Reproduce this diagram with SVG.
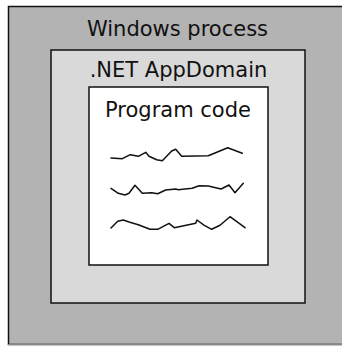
<svg xmlns="http://www.w3.org/2000/svg" width="342" height="346" viewBox="0 0 342 346">
<style>
.lbl{font-family:"DejaVu Sans","Liberation Sans",sans-serif;font-size:21px;fill:#111;text-anchor:middle}
.box{stroke:#111;stroke-width:1.5}
.sq{fill:none;stroke:#111;stroke-width:1.5;stroke-linejoin:round;stroke-linecap:round}
</style>
<rect width="342" height="346" fill="#ffffff"/>
<g id="windows-process">
<rect class="box" x="8.5" y="6.5" width="340" height="338" fill="#b3b3b3"/>
<line x1="8" y1="344.5" x2="342" y2="344.5" stroke="#8a8a8a" stroke-width="1"/>
<text class="lbl" x="177.5" y="36">Windows process</text>
</g>
<g id="appdomain">
<rect class="box" x="51" y="50" width="254" height="253" fill="#d9d9d9"/>
<text class="lbl" x="178.5" y="77">.NET AppDomain</text>
</g>
<g id="program-code">
<rect class="box" x="89" y="87" width="179" height="178" fill="#ffffff"/>
<text class="lbl" x="178" y="117">Program code</text>
<polyline class="sq" points="111,158 122.3,158.7 130.3,154.7 138.3,156.3 145.7,152.3 149,156.3 156.7,159.7 162.3,160.7 171.7,151 175.7,149.3 181.7,156.3 208.3,155.7 227.7,147.7 242.3,153.3"/>
<polyline class="sq" points="111,188.3 118.3,193.3 125,195 129,193.3 135,185.3 142.3,193.3 151.7,192.7 157.7,193.7 165.7,190 175.7,189 178.3,189.7 185,189 192.3,188.3 199,185.7 208.3,186 221,189 229,185 235,192.7 243.3,183.3"/>
<polyline class="sq" points="111,228 117.7,221.3 123.3,220 129,222 138.3,224.7 150,229.3 157.7,229.3 169,223.3 174.3,227.7 195.7,223.3 197,220 204.3,225.3 211.7,229.3 220,225.3 230,216.7 245,227.7"/>
</g>
<g id="connectors"></g>
</svg>
